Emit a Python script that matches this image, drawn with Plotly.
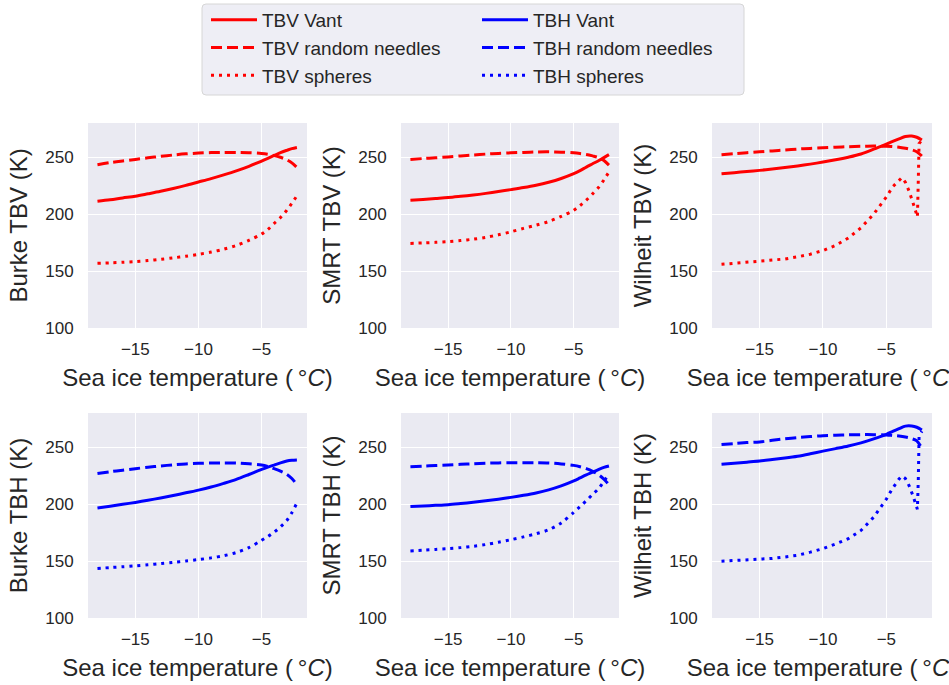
import plotly.graph_objects as go

# ---------------- data ----------------
temp = [-18, -17, -16, -15, -14, -13, -12, -11, -10, -9, -8, -7, -6, -5,
        -4.5, -4, -3.5, -3, -2.6, -2.2]
temp_wil_sph = [-18, -17, -16, -15, -14, -13, -12, -11, -10, -9, -8, -7, -6, -5,
                -4.5, -4, -3.78, -3.5, -3.2, -2.9, -2.55, -2.48, -2.42, -2.2]

burke_tbv_vant = [211.3, 212.6, 214.2, 215.7, 217.8, 220.0, 222.5, 225.2, 228.2, 231.2,
                  234.5, 238.0, 242.0, 246.6, 249.0, 251.5, 254.0, 256.0, 257.5, 258.5]
burke_tbv_needles = [243.4, 245.2, 246.7, 248.0, 249.4, 250.7, 251.9, 252.9, 253.6, 254.0,
                     254.2, 254.1, 253.9, 253.3, 252.6, 251.5, 249.9, 247.7, 245.0, 241.0]
burke_tbv_spheres = [156.8, 157.2, 157.7, 158.3, 159.2, 160.3, 161.6, 163.0, 164.7, 166.7,
                     169.2, 172.5, 177.0, 182.5, 186.5, 191.8, 197.0, 203.4, 209.5, 216.0]

smrt_tbv_vant = [212.2, 212.9, 213.7, 214.5, 215.6, 216.8, 218.2, 219.8, 221.5, 223.3,
                 225.4, 228.0, 231.3, 235.5, 238.2, 241.3, 244.2, 247.1, 249.6, 252.2]
smrt_tbv_needles = [248.0, 248.8, 249.5, 250.2, 251.1, 251.9, 252.7, 253.3, 253.8, 254.2,
                    254.6, 254.7, 254.4, 253.8, 253.2, 252.4, 251.1, 249.5, 247.0, 243.0]
smrt_tbv_spheres = [174.3, 174.7, 175.2, 175.8, 176.8, 178.0, 179.6, 181.8, 184.5, 187.5,
                    190.3, 193.5, 198.0, 203.4, 207.5, 212.2, 217.8, 223.8, 230.0, 237.0]

wil_tbv_vant = [235.5, 236.4, 237.4, 238.4, 239.6, 240.9, 242.3, 243.9, 245.7, 247.7,
                250.0, 252.8, 257.0, 261.5, 263.8, 266.0, 268.2, 268.6, 267.5, 265.0]
wil_tbv_needles = [252.1, 253.0, 253.9, 254.7, 255.5, 256.3, 257.1, 257.7, 258.2, 258.7,
                   259.2, 259.5, 259.7, 259.6, 259.3, 258.8, 257.8, 256.5, 254.8, 251.0]
wil_tbv_spheres = [155.9, 156.8, 157.5, 158.2, 159.3, 160.6, 162.5, 164.8, 168.0, 172.5,
                   179.0, 188.0, 200.0, 215.0, 224.0, 230.0, 232.0, 228.0, 220.0, 210.0,
                   197.5, 230.0, 262.0, 265.0]

burke_tbh_vant = [196.6, 198.2, 199.8, 201.5, 203.4, 205.4, 207.6, 209.9, 212.3, 215.0,
                  218.2, 221.7, 226.0, 230.5, 232.5, 234.3, 236.2, 237.8, 238.5, 238.8]
burke_tbh_needles = [226.8, 228.4, 229.8, 231.1, 232.4, 233.5, 234.5, 235.3, 235.8, 236.1,
                     236.2, 236.1, 235.4, 234.3, 233.0, 231.1, 229.0, 226.2, 222.5, 217.0]
burke_tbh_spheres = [143.5, 144.3, 145.0, 145.8, 146.7, 147.8, 148.9, 150.0, 151.3, 152.8,
                     154.7, 157.5, 161.8, 168.2, 171.5, 175.4, 180.0, 185.6, 192.5, 201.0]

smrt_tbh_vant = [197.8, 198.4, 198.9, 199.5, 200.5, 201.6, 202.9, 204.3, 205.9, 207.7,
                 209.8, 212.5, 216.0, 220.4, 223.0, 225.6, 228.0, 230.5, 232.2, 233.4]
smrt_tbh_needles = [232.9, 233.4, 233.9, 234.3, 234.9, 235.4, 235.9, 236.2, 236.4, 236.4,
                    236.3, 236.1, 235.3, 234.0, 232.8, 231.1, 228.8, 225.6, 221.8, 217.0]
smrt_tbh_spheres = [158.9, 159.5, 160.2, 160.9, 161.8, 163.0, 164.5, 166.5, 168.8, 171.2,
                    174.0, 177.5, 183.5, 192.8, 197.8, 203.0, 208.5, 214.0, 220.0, 226.8]

wil_tbh_vant = [234.9, 235.8, 236.8, 237.8, 239.1, 240.5, 242.1, 244.2, 246.5, 248.7,
                251.0, 253.8, 257.3, 261.3, 263.8, 266.2, 268.5, 268.6, 267.5, 265.0]
wil_tbh_needles = [252.3, 253.2, 254.0, 254.6, 256.0, 257.3, 258.4, 259.3, 260.1, 260.5,
                   260.8, 261.0, 261.0, 260.7, 260.3, 259.8, 258.9, 257.5, 255.5, 249.0]
wil_tbh_spheres = [149.9, 150.4, 150.8, 151.3, 152.3, 153.6, 155.1, 157.8, 160.9, 165.0,
                   169.6, 176.9, 188.5, 204.4, 214.0, 222.0, 224.7, 222.5, 216.0, 207.3,
                   195.5, 222.0, 259.0, 264.0]

y_titles = ["Burke TBV (K)", "SMRT TBV (K)", "Wilheit TBV (K)",
            "Burke TBH (K)", "SMRT TBH (K)", "Wilheit TBH (K)"]
x_title = "Sea ice temperature (\u2009°<i>C</i>)"
x_tickvals = [-15, -10, -5]
x_ticktext = ["\u221215", "\u221210", "\u22125"]
y_tickvals = [100, 150, 200, 250]
series_names = ["Vant", "random needles", "spheres"]

panels = [
    ("TBV", [burke_tbv_vant, burke_tbv_needles, burke_tbv_spheres], False),
    ("TBV", [smrt_tbv_vant, smrt_tbv_needles, smrt_tbv_spheres], False),
    ("TBV", [wil_tbv_vant, wil_tbv_needles, wil_tbv_spheres], True),
    ("TBH", [burke_tbh_vant, burke_tbh_needles, burke_tbh_spheres], False),
    ("TBH", [smrt_tbh_vant, smrt_tbh_needles, smrt_tbh_spheres], False),
    ("TBH", [wil_tbh_vant, wil_tbh_needles, wil_tbh_spheres], True),
]

# ---------------- styling ----------------
W, H = 949, 685
FONT = "Liberation Sans, Arial, sans-serif"
TXT = "#262626"
BG = "#EAEAF2"
colors = {"TBV": "#FF0000", "TBH": "#0000FF"}
dashes = ["solid", "11px,5px", "3px,5px"]
col_px = [(88, 307), (401, 619), (712, 932)]
row_px = [(123, 328), (413, 618)]

fig = go.Figure()
layout = {}

for k, (pol, vals, is_wil) in enumerate(panels):
    r, c = divmod(k, 3)
    idx = k + 1
    xa = "x" if idx == 1 else f"x{idx}"
    ya = "y" if idx == 1 else f"y{idx}"
    for s, (name, yv) in enumerate(zip(series_names, vals)):
        xv = temp_wil_sph if (is_wil and s == 2) else temp
        shape = "linear" if (is_wil and s == 2) else "spline"
        show = (k in (0, 3))
        legend = "legend" if pol == "TBV" else "legend2"
        fig.add_trace(go.Scatter(
            x=xv, y=yv, mode="lines", xaxis=xa, yaxis=ya,
            name=f"{pol} {name}", showlegend=show, legend=legend,
            line=dict(color=colors[pol], width=3, dash=dashes[s], shape=shape,
                      smoothing=0.9),
            hoverinfo="skip",
        ))
    x0, x1 = col_px[c]
    y0, y1 = row_px[r]
    layout[f"xaxis{idx}"] = dict(
        domain=[x0 / W, x1 / W], anchor=ya, range=[-18.75, -1.4],
        tickvals=x_tickvals, ticktext=x_ticktext,
        showgrid=True, gridcolor="white", gridwidth=1, zeroline=False,
        showline=False, ticks="outside", ticklen=6, tickcolor="rgba(0,0,0,0)",
        tickfont=dict(family=FONT, size=17, color=TXT),
        title=dict(text=x_title, font=dict(family=FONT, size=24, color=TXT), standoff=10),
        automargin=False,
    )
    layout[f"yaxis{idx}"] = dict(
        domain=[1 - y1 / H, 1 - y0 / H], anchor=xa, range=[100, 280],
        tickvals=y_tickvals,
        showgrid=True, gridcolor="white", gridwidth=1, zeroline=False,
        showline=False, ticks="outside", ticklen=10, tickcolor="rgba(0,0,0,0)",
        tickfont=dict(family=FONT, size=17, color=TXT),
        title=dict(text=y_titles[k], font=dict(family=FONT, size=24, color=TXT), standoff=10),
        automargin=False,
    )

# legend frame (rounded rectangle in paper coords)
lx0, lx1, ly0, ly1, rad = 202, 744, 4, 95, 4
def px(xp): return xp / W
def py(yp): return 1 - yp / H
path = (f"M{px(lx0+rad)},{py(ly0)} L{px(lx1-rad)},{py(ly0)} Q{px(lx1)},{py(ly0)} {px(lx1)},{py(ly0+rad)} "
        f"L{px(lx1)},{py(ly1-rad)} Q{px(lx1)},{py(ly1)} {px(lx1-rad)},{py(ly1)} "
        f"L{px(lx0+rad)},{py(ly1)} Q{px(lx0)},{py(ly1)} {px(lx0)},{py(ly1-rad)} "
        f"L{px(lx0)},{py(ly0+rad)} Q{px(lx0)},{py(ly0)} {px(lx0+rad)},{py(ly0)} Z")

shapes = [dict(type="path", xref="paper", yref="paper", path=path,
               fillcolor="#EEEEF5", line=dict(color="#D6D6D6", width=1), layer="below")]
for k in range(6):
    r, c = divmod(k, 3)
    x0, x1 = col_px[c]
    y0, y1 = row_px[r]
    shapes.append(dict(type="rect", xref="paper", yref="paper",
                       x0=x0 / W, x1=x1 / W, y0=1 - y1 / H, y1=1 - y0 / H,
                       fillcolor=BG, line=dict(width=0), layer="below"))

leg_common = dict(
    bgcolor="rgba(0,0,0,0)", borderwidth=0, orientation="v",
    font=dict(family=FONT, size=19, color=TXT), itemwidth=46,
    xanchor="left", yanchor="top", tracegroupgap=0,
)
fig.update_layout(
    width=W, height=H, margin=dict(l=0, r=0, t=0, b=0),
    paper_bgcolor="white", plot_bgcolor="rgba(0,0,0,0)",
    font=dict(family=FONT, color=TXT),
    shapes=shapes,
    legend=dict(x=206 / W, y=1 - 1 / H, **leg_common),
    legend2=dict(x=477 / W, y=1 - 1 / H, **leg_common),
    **layout,
)

fig.write_html("out.html")
